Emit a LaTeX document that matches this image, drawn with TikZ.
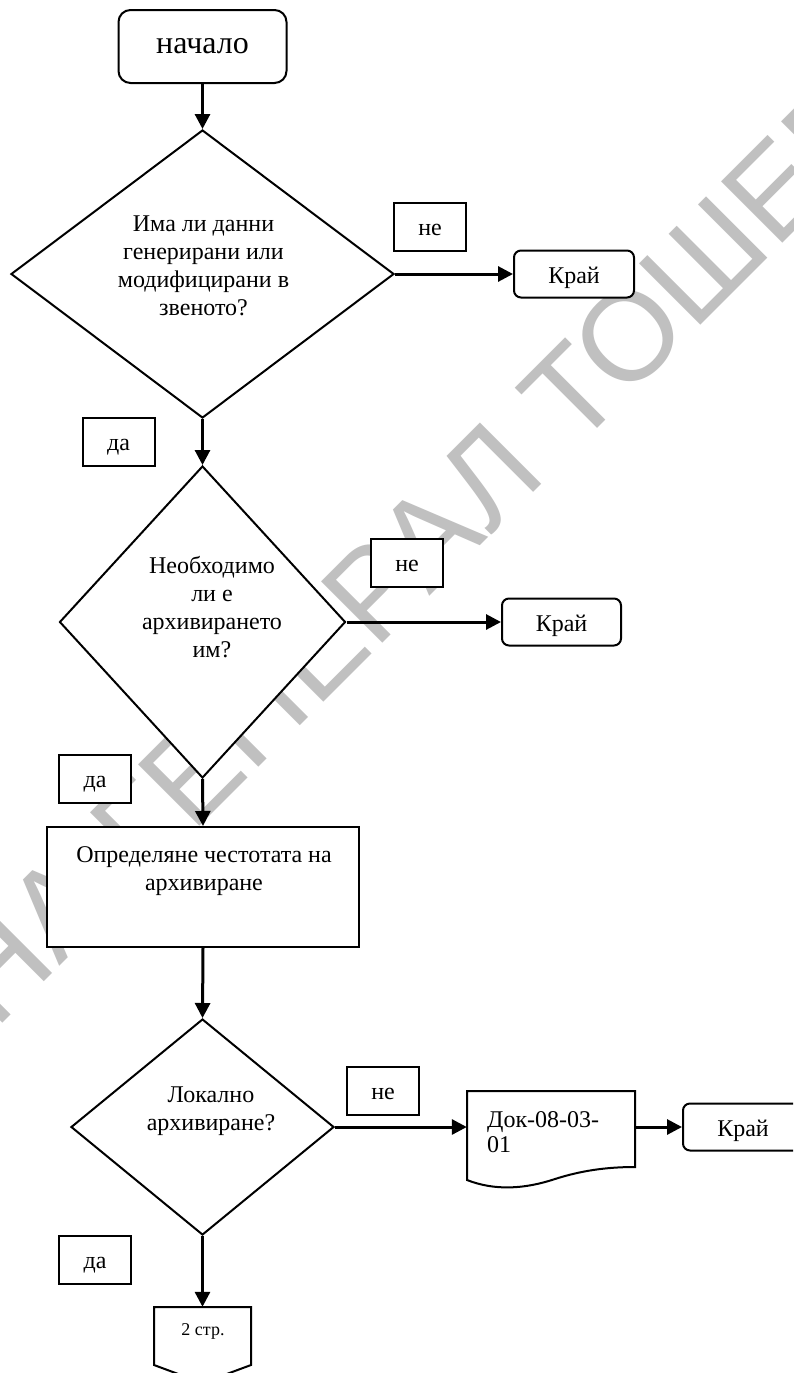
\documentclass[tikz,border=0pt]{standalone}
\usepackage{fontspec}
\setmainfont{Liberation Serif}
\newfontfamily\wmfont{Liberation Sans}
\usetikzlibrary{shapes.geometric,arrows.meta}
\definecolor{wmgray}{RGB}{192,192,192}
\begin{document}
\begin{tikzpicture}[x=1pt,y=-1pt,
  box/.style={draw,line width=2pt,fill=white,inner sep=0pt},
  endbox/.style={box,rounded corners=7pt,minimum width=120pt,minimum height=47pt,font=\fontsize{24}{28}\selectfont,text height=19pt,text depth=0pt},
  lbl/.style={box,minimum width=72pt,minimum height=48pt,font=\fontsize{24}{28}\selectfont,text height=17pt,text depth=0pt},
  dia/.style={box,diamond},
  txt/.style={inner sep=0pt,align=center,font=\fontsize{24}{28}\selectfont},
  conn/.style={line width=3pt,-{Triangle[length=15pt,width=15pt]}},
  wm/.style={text=wmgray,inner sep=0pt,rotate=45,font=\wmfont\fontsize{126}{126}\selectfont},
  outline/.style={draw,line width=2pt,fill=white},
]
\useasboundingbox (0,0) rectangle (793,1373);
\clip (0,0) rectangle (793,1373);
\fill[white] (0,0) rectangle (793,1373);

% watermark
\node[wm,anchor=base west] (wm2) at (574,452) {ТОШЕВО};
\node[wm,anchor=base east] (wm1) at (549,477) {ОБЩИНА ГЕНЕРАЛ};

% shapes
\node[box,rounded corners=12pt,minimum width=168pt,minimum height=73pt,font=\fontsize{32}{36}\selectfont] (start) at (202.5,46.5) {начало};

\node[dia,minimum width=383pt,minimum height=288pt] (d1) at (202.5,274) {};
\node[txt] (t1) at (203.5,266) {Има ли данни\\генерирани или\\модифицирани в\\звеното?};
\node[lbl] (n1) at (430,226.5) {не};
\node[endbox] (k1) at (574,274) {Край};
\node[lbl] (da1) at (118.5,442) {да};

\node[dia,minimum width=286pt,minimum height=312pt] (d2) at (202.5,622) {};
\node[txt] (t2) at (212,607) {Необходимо\\ли е\\архивирането\\им?};
\node[lbl] (n2) at (407,563) {не};
\node[endbox,minimum width=119pt] (k2) at (561.5,622) {Край};
\node[lbl] (da2) at (95,779) {да};

\node[box,minimum width=312pt,minimum height=120pt] (r) at (203,887) {};
\node[txt] (rt) at (204,871) {Определяне честотата на\\архивиране};

\node[dia,minimum width=263pt,minimum height=216pt] (d3) at (202.5,1127) {};
\node[txt] (t3) at (211,1111) {Локално\\архивиране?};
\node[lbl] (n3) at (383,1091) {не};

\node[inner sep=0pt,minimum width=168pt,minimum height=72pt] (doc) at (551,1127) {};
\draw[outline] (467,1091) -- (635,1091) -- (635,1167)
  .. controls (605,1167) and (580,1171) .. (555,1179)
  .. controls (525,1189) and (495,1191) .. (467,1180) -- cycle;
\node[inner sep=0pt,anchor=north west,align=left,font=\fontsize{24}{25}\selectfont] (doct) at (487,1111) {Док-08-03-\\01};
\node[endbox] (k3) at (743,1127) {Край};
\node[lbl] (da3) at (95,1259.5) {да};

\node[inner sep=0pt,minimum width=97pt,minimum height=76pt] (opc) at (202.5,1345) {};
\draw[outline] (154,1307) -- (251,1307) -- (251,1365) -- (202.5,1383) -- (154,1365) -- cycle;
\node[inner sep=0pt,font=\fontsize{18}{20}\selectfont] (opct) at (203,1331) {2 стр.};

% connectors
\draw[conn] (start.south) -- (d1.north);
\draw[conn] (d1.east) -- (d1.east -| k1.west);
\draw[conn] (d1.south) -- (d2.north);
\draw[conn] (d2.east) -- (d2.east -| k2.west);
\draw[conn] (d2.south) -- (r.north);
\draw[conn] (r.south) -- (d3.north);
\draw[conn] (d3.east) -- (d3.east -| doc.west);
\draw[conn] (doc.east) -- (doc.east -| k3.west);
\draw[conn] (d3.south) -- (opc.north);
\end{tikzpicture}
\end{document}
